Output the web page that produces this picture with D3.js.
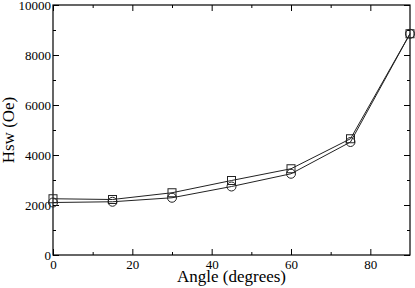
<!DOCTYPE html>
<html>
<head>
<meta charset="utf-8">
<script src="https://cdn.jsdelivr.net/npm/d3@7"></script>
<style>
  body { margin: 0; background: #fff; }
  text { font-family: "Liberation Serif", "Times New Roman", serif; }
</style>
</head>
<body>
<div class="chart"></div>
<script>
const svgWidth = 415;
const svgHeight = 288;

const margin = { top: 5, right: 5, bottom: 33, left: 53 };
const width = svgWidth - margin.left - margin.right;
const height = svgHeight - margin.top - margin.bottom;

// data
const angles = [0, 15, 30, 45, 60, 75, 90];
const hswSquares = [2250, 2220, 2490, 2980, 3450, 4650, 8850];
const hswCircles = [2100, 2130, 2290, 2740, 3250, 4520, 8850];
const xTicks = [0, 20, 40, 60, 80];
const yTicks = [0, 2000, 4000, 6000, 8000, 10000];

const svg = d3.select(".chart")
    .append("svg")
    .attr("width", svgWidth)
    .attr("height", svgHeight);

const chartGroup = svg.append("g")
    .attr("transform", `translate(${margin.left}, ${margin.top})`);

const xLinearScale = d3.scaleLinear().domain([0, 90]).range([0, width]);
const yLinearScale = d3.scaleLinear().domain([0, 10000]).range([height, 0]);

// minor ticks (inside, all four sides)
const xMinor = d3.range(10, 90, 20);
const yMinor = d3.range(1000, 10000, 2000);

function tickAxis(axisFn, scale, values, size) {
    return axisFn(scale).tickValues(values).tickSizeInner(size).tickSizeOuter(0).tickFormat("");
}

function styleLabels(g) {
    g.selectAll("text")
        .style("font-size", "13px")
        .style("font-family", "'Liberation Serif', 'Times New Roman', serif")
        .attr("fill", "#000");
}

// bottom
chartGroup.append("g")
    .attr("transform", `translate(0, ${height})`)
    .call(d3.axisBottom(xLinearScale).tickValues(xTicks).tickFormat(d3.format("d"))
        .tickSize(-6).tickPadding(5).tickSizeOuter(0))
    .call(styleLabels);
chartGroup.append("g")
    .attr("transform", `translate(0, ${height})`)
    .call(tickAxis(d3.axisBottom, xLinearScale, xMinor, -3));
// top
chartGroup.append("g")
    .call(tickAxis(d3.axisTop, xLinearScale, xTicks, -6));
chartGroup.append("g")
    .call(tickAxis(d3.axisTop, xLinearScale, xMinor, -3));
// left
chartGroup.append("g")
    .call(d3.axisLeft(yLinearScale).tickValues(yTicks).tickFormat(d3.format("d"))
        .tickSize(-6).tickPadding(2).tickSizeOuter(0))
    .call(styleLabels);
chartGroup.append("g")
    .call(tickAxis(d3.axisLeft, yLinearScale, yMinor, -3));
// right
chartGroup.append("g")
    .attr("transform", `translate(${width}, 0)`)
    .call(tickAxis(d3.axisRight, yLinearScale, yTicks, -6));
chartGroup.append("g")
    .attr("transform", `translate(${width}, 0)`)
    .call(tickAxis(d3.axisRight, yLinearScale, yMinor, -3));

chartGroup.selectAll(".domain").remove();
chartGroup.selectAll(".tick line").attr("stroke", "#000");

// frame
chartGroup.append("rect")
    .attr("x", 0).attr("y", 0)
    .attr("width", width).attr("height", height)
    .attr("fill", "none").attr("stroke", "#000").attr("stroke-width", 1.2);

const squareData = angles.map((a, i) => ({ x: a, y: hswSquares[i] }));
const circleData = angles.map((a, i) => ({ x: a, y: hswCircles[i] }));

const line = d3.line()
    .x(d => xLinearScale(d.x))
    .y(d => yLinearScale(d.y));

[squareData, circleData].forEach(series => {
    chartGroup.append("path")
        .datum(series)
        .attr("d", line)
        .attr("fill", "none")
        .attr("stroke", "#222")
        .attr("stroke-width", 1);
});

chartGroup.selectAll(".sq")
    .data(squareData)
    .enter()
    .append("rect")
    .attr("x", d => xLinearScale(d.x) - 4)
    .attr("y", d => yLinearScale(d.y) - 4)
    .attr("width", 8)
    .attr("height", 8)
    .attr("fill", "none")
    .attr("stroke", "#222")
    .attr("stroke-width", 1);

chartGroup.selectAll(".circ")
    .data(circleData)
    .enter()
    .append("circle")
    .attr("cx", d => xLinearScale(d.x))
    .attr("cy", d => yLinearScale(d.y))
    .attr("r", 4.5)
    .attr("fill", "none")
    .attr("stroke", "#222")
    .attr("stroke-width", 1);

// axis titles
svg.append("text")
    .attr("x", margin.left + width / 2)
    .attr("y", 282)
    .attr("text-anchor", "middle")
    .style("font-size", "17px")
    .text("Angle (degrees)");

svg.append("text")
    .attr("transform", `translate(14, ${margin.top + height / 2}) rotate(-90)`)
    .attr("text-anchor", "middle")
    .style("font-size", "17px")
    .text("Hsw (Oe)");
</script>
</body>
</html>
